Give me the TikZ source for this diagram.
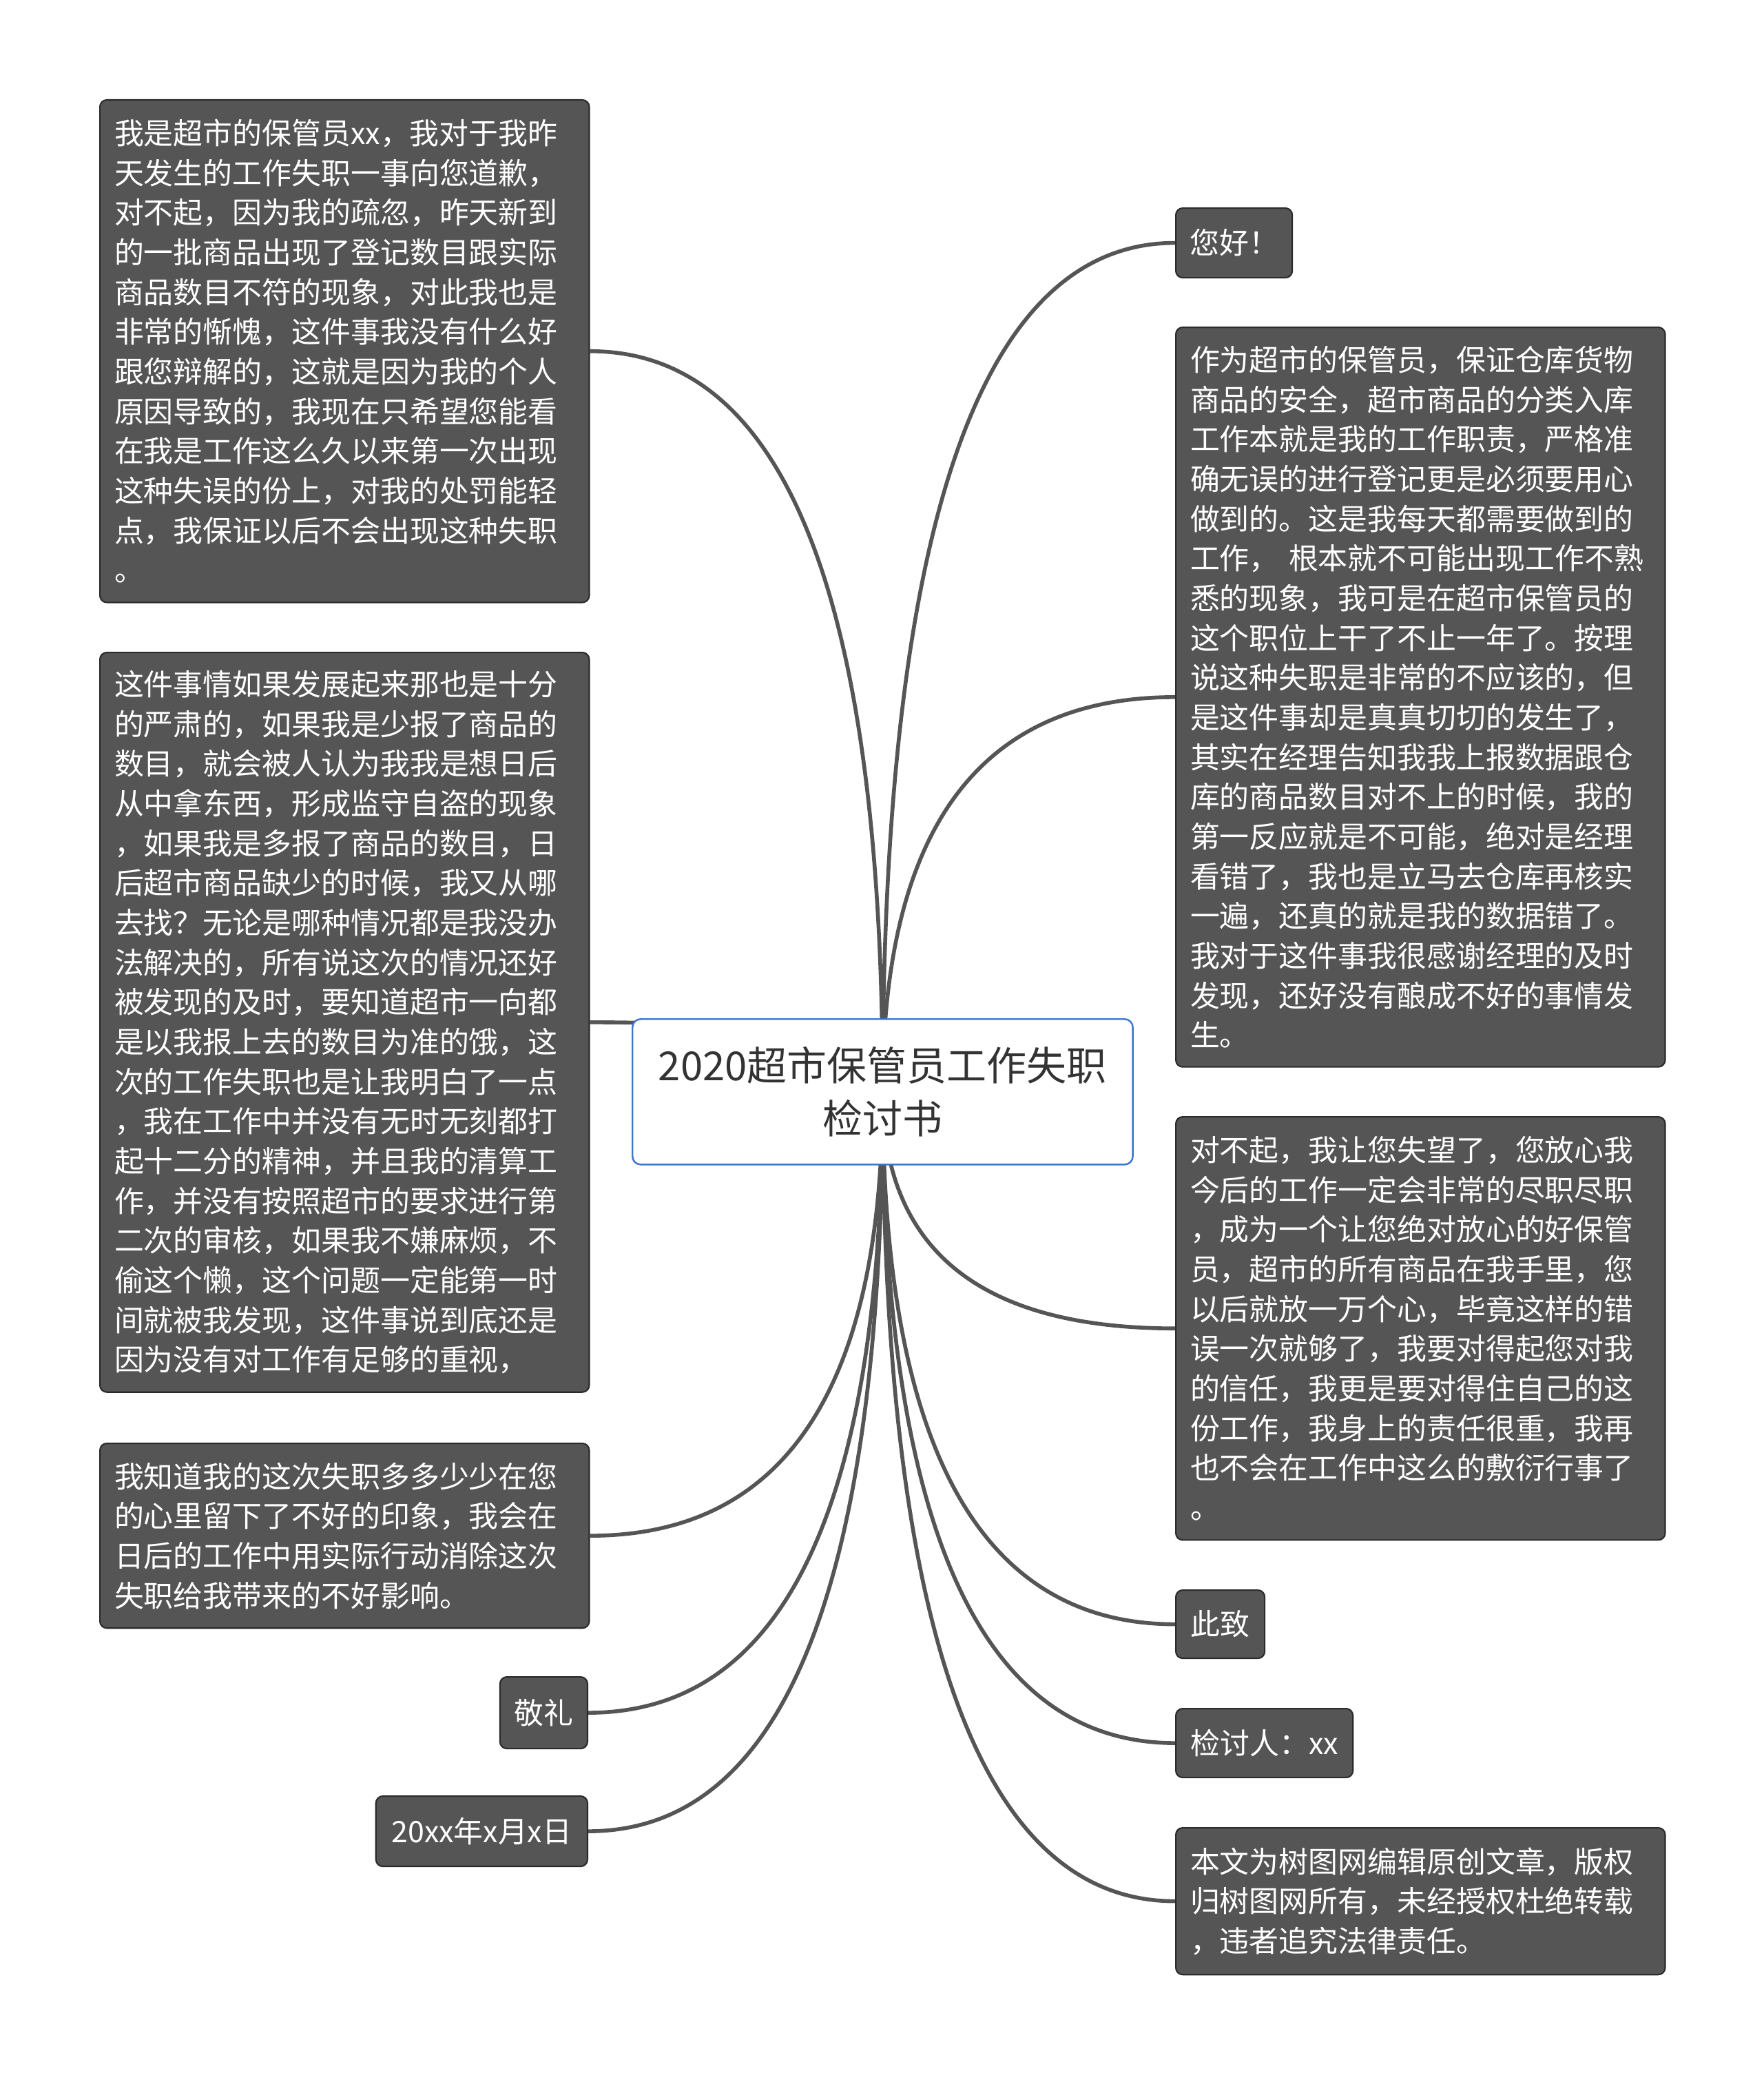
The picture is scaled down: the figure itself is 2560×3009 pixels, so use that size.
\documentclass[tikz,border=0pt]{standalone}
\usepackage{fontspec}
\usepackage{tikz}
\usetikzlibrary{
	calc,
	backgrounds,
	positioning
}
\newfontfamily\cjk{Noto Sans CJK SC}
\definecolor{boxgray}{HTML}{555555}
\definecolor{edgegray}{HTML}{2B2B2B}
\definecolor{linkgray}{HTML}{555555}
\definecolor{titleblue}{HTML}{3A76CC}
\definecolor{titletext}{HTML}{333333}

\begin{document}
\begin{tikzpicture}[x=0.01cm, y=-0.01cm,
		leaf/.style={draw=edgegray, line width=0.6pt, fill=boxgray, rounded corners=0.1cm, text=white, font=\cjk\fontsize{12.2pt}{16.4pt}\selectfont, inner sep=0pt},
		note/.style={leaf, anchor=north west, text width=6.68cm, inner xsep=0.21cm, align=left},
		title/.style={draw=titleblue, line width=0.7pt, fill=white, rounded corners=0.12cm, text=titletext, font=\cjk\fontsize{16.5pt}{21.8pt}\selectfont, align=center, anchor=north west, inner sep=0pt, minimum width=7.26cm, minimum height=2.11cm},
		link/.style={draw=linkgray, line width=1.6pt}]
		\useasboundingbox (0,0) rectangle (2560,3009);
		% 中心主题
		\node[title] (title) at (917,1478) {2020超市保管员工作失职\\检讨书};
		% 左侧分支
		\node[note, minimum height=7.29cm] (lsorry) at (144,144) {我是超市的保管员xx，我对于我昨\\天发生的工作失职一事向您道歉，\\对不起，因为我的疏忽，昨天新到\\的一批商品出现了登记数目跟实际\\商品数目不符的现象，对此我也是\\非常的惭愧，这件事我没有什么好\\跟您辩解的，这就是因为我的个人\\原因导致的，我现在只希望您能看\\在我是工作这么久以来第一次出现\\这种失误的份上，对我的处罚能轻\\点，我保证以后不会出现这种失职\\。};
		\node[note, minimum height=10.73cm] (lserious) at (144,946) {这件事情如果发展起来那也是十分\\的严肃的，如果我是少报了商品的\\数目，就会被人认为我我是想日后\\从中拿东西，形成监守自盗的现象\\，如果我是多报了商品的数目，日\\后超市商品缺少的时候，我又从哪\\去找？无论是哪种情况都是我没办\\法解决的，所有说这次的情况还好\\被发现的及时，要知道超市一向都\\是以我报上去的数目为准的饿，这\\次的工作失职也是让我明白了一点\\，我在工作中并没有无时无刻都打\\起十二分的精神，并且我的清算工\\作，并没有按照超市的要求进行第\\二次的审核，如果我不嫌麻烦，不\\偷这个懒，这个问题一定能第一时\\间就被我发现，这件事说到底还是\\因为没有对工作有足够的重视，};
		\node[note, minimum height=2.68cm] (limpress) at (144,2094) {我知道我的这次失职多多少少在您\\的心里留下了不好的印象，我会在\\日后的工作中用实际行动消除这次\\失职给我带来的不好影响。};
		\node[leaf, anchor=north east, minimum width=1.27cm, minimum height=1.04cm] (lregard) at (854,2433) {敬礼};
		\node[leaf, anchor=north east, minimum width=3.07cm, minimum height=1.02cm] (ldate) at (854,2606) {20xx年x月x日};
		% 右侧分支
		\node[leaf, anchor=north west, minimum width=1.69cm, minimum height=1.01cm] (rhello) at (1706,301) {您好！};
		\node[note, minimum height=10.73cm] (rduty) at (1706,474) {作为超市的保管员，保证仓库货物\\商品的安全，超市商品的分类入库\\工作本就是我的工作职责，严格准\\确无误的进行登记更是必须要用心\\做到的。这是我每天都需要做到的\\工作， 根本就不可能出现工作不熟\\悉的现象，我可是在超市保管员的\\这个职位上干了不止一年了。按理\\说这种失职是非常的不应该的，但\\是这件事却是真真切切的发生了，\\其实在经理告知我我上报数据跟仓\\库的商品数目对不上的时候，我的\\第一反应就是不可能，绝对是经理\\看错了，我也是立马去仓库再核实\\一遍，还真的就是我的数据错了。\\我对于这件事我很感谢经理的及时\\发现，还好没有酿成不好的事情发\\生。};
		\node[note, minimum height=6.14cm] (rpromise) at (1706,1620) {对不起，我让您失望了，您放心我\\今后的工作一定会非常的尽职尽职\\，成为一个让您绝对放心的好保管\\员，超市的所有商品在我手里，您\\以后就放一万个心，毕竟这样的错\\误一次就够了，我要对得起您对我\\的信任，我更是要对得住自己的这\\份工作，我身上的责任很重，我再\\也不会在工作中这么的敷衍行事了\\。};
		\node[leaf, anchor=north west, minimum width=1.29cm, minimum height=0.99cm] (rclose) at (1706,2307) {此致};
		\node[leaf, anchor=north west, minimum width=2.57cm, minimum height=1.00cm] (rsign) at (1706,2479) {检讨人：xx};
		\node[note, minimum height=2.13cm] (rnotice) at (1706,2652) {本文为树图网编辑原创文章，版权\\归树图网所有，未经授权杜绝转载\\，违者追究法律责任。};
		% 连线：从中心出发的二次曲线
		\begin{pgfonlayer}{background}
			\foreach \b/\s in {lsorry/east, lserious/east, limpress/east, lregard/east, ldate/east, rhello/west, rduty/west, rpromise/west, rclose/west, rsign/west, rnotice/west}
				\draw[link] (title.center) .. controls ($(title.center)!0.667!(title.center |- \b.\s)$) and ($(\b.\s)!0.667!(title.center |- \b.\s)$) .. (\b.\s);
		\end{pgfonlayer}
	\end{tikzpicture}
\end{document}
